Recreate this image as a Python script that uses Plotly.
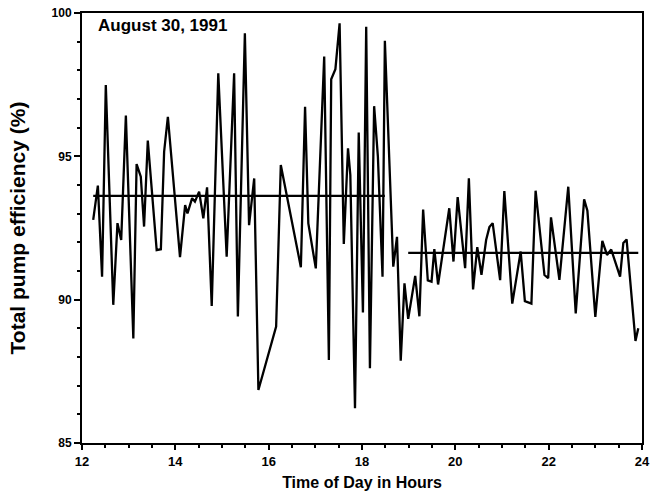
import plotly.graph_objects as go

# Time of day (hours) and total pump efficiency (%)
hours = [12.24, 12.34, 12.43, 12.51, 12.67, 12.76, 12.84, 12.94, 13.10, 13.17,
         13.26, 13.33, 13.41, 13.60, 13.69, 13.76, 13.84, 14.10, 14.21, 14.26,
         14.36, 14.42, 14.51, 14.60, 14.68, 14.78, 14.92, 15.10, 15.26, 15.34,
         15.49, 15.58, 15.69, 15.78, 16.16, 16.26, 16.69, 16.78, 16.85, 17.01,
         17.19, 17.29, 17.34, 17.43, 17.52, 17.61, 17.70, 17.75, 17.85, 17.93,
         18.02, 18.09, 18.17, 18.26, 18.34, 18.44, 18.49, 18.67, 18.75, 18.83,
         18.91, 18.99, 19.14, 19.23, 19.31, 19.41, 19.49, 19.55, 19.63, 19.87,
         19.96, 20.05, 20.21, 20.29, 20.38, 20.47, 20.56, 20.66, 20.73, 20.80,
         20.96, 21.05, 21.22, 21.40, 21.49, 21.63, 21.72, 21.91, 21.99, 22.05,
         22.23, 22.42, 22.58, 22.76, 22.83, 23.00, 23.15, 23.25, 23.34, 23.53,
         23.60, 23.67, 23.86, 23.92]
efficiency = [92.78, 93.98, 90.80, 97.49, 89.82, 92.67, 92.08, 96.42, 88.65, 94.73,
              94.29, 92.55, 95.55, 91.73, 91.76, 95.16, 96.38, 91.48, 93.30, 93.01,
              93.54, 93.42, 93.77, 92.84, 93.92, 89.78, 97.90, 91.50, 97.90, 89.41,
              99.29, 92.60, 94.23, 86.85, 89.06, 94.70, 91.13, 96.73, 92.66, 91.09,
              98.48, 87.90, 97.69, 98.04, 99.64, 91.94, 95.28, 94.35, 86.21, 95.83,
              89.55, 99.52, 87.61, 96.75, 95.00, 90.80, 99.03, 91.15, 92.19, 87.87,
              90.57, 89.33, 90.83, 89.42, 93.14, 90.67, 90.63, 91.76, 90.53, 93.19,
              91.33, 93.58, 91.10, 94.23, 90.36, 91.83, 90.87, 92.08, 92.53, 92.67,
              90.68, 93.79, 89.86, 91.68, 89.95, 89.86, 93.80, 90.86, 90.75, 92.87,
              90.69, 93.94, 89.52, 93.50, 93.10, 89.40, 92.05, 91.56, 91.75, 90.80,
              91.98, 92.10, 88.56, 89.00]

# Period averages
mean1_hours = [12.24, 18.49]
mean1_value = [93.62, 93.62]
mean2_hours = [18.99, 23.92]
mean2_value = [91.63, 91.63]

x_ticks = [12, 14, 16, 18, 20, 22, 24]
y_ticks = [85, 90, 95, 100]

fig = go.Figure()
fig.add_trace(go.Scatter(x=hours, y=efficiency, mode="lines",
                         line=dict(color="black", width=2.3), showlegend=False))
fig.add_trace(go.Scatter(x=mean1_hours, y=mean1_value, mode="lines",
                         line=dict(color="black", width=2.3), showlegend=False))
fig.add_trace(go.Scatter(x=mean2_hours, y=mean2_value, mode="lines",
                         line=dict(color="black", width=2.3), showlegend=False))

font_family = "Liberation Sans, Arial, sans-serif"

fig.update_layout(
    width=651, height=495,
    margin=dict(l=82, r=9, t=13, b=52),
    plot_bgcolor="white", paper_bgcolor="white",
    font=dict(family=font_family, color="black"),
    xaxis=dict(range=[12, 24], tickvals=x_ticks, ticks="outside", ticklen=5,
               tickwidth=1.5, tickcolor="black", automargin=False,
               minor=dict(dtick=0.5, ticks="outside", ticklen=3, tickcolor="black", tickwidth=1.5),
               showline=True, linecolor="black", linewidth=2, mirror=True,
               showgrid=False, zeroline=False,
               tickfont=dict(size=13, weight="bold"),
               title=dict(text="Time of Day in Hours", font=dict(size=16, weight="bold"), standoff=9)),
    yaxis=dict(range=[85, 100], tickvals=y_ticks, ticks="outside", ticklen=6,
               tickwidth=1.5, tickcolor="black", automargin=False,
               minor=dict(dtick=1, ticks="outside", ticklen=3, tickcolor="black", tickwidth=1.5),
               showline=True, linecolor="black", linewidth=2, mirror=True,
               showgrid=False, zeroline=False,
               tickfont=dict(size=12, weight="bold"),
               title=dict(text="Total pump efficiency (%)", font=dict(size=21, weight="bold"), standoff=20)),
    annotations=[dict(text="August 30, 1991", xref="paper", yref="paper", x=0.025, y=0.997,
                      xanchor="left", yanchor="top", showarrow=False,
                      font=dict(size=17, weight="bold", family=font_family))],
)

fig.write_html("out.html", config={"displayModeBar": False},
               post_script="document.body.style.margin='0';document.body.style.overflow='hidden';")
